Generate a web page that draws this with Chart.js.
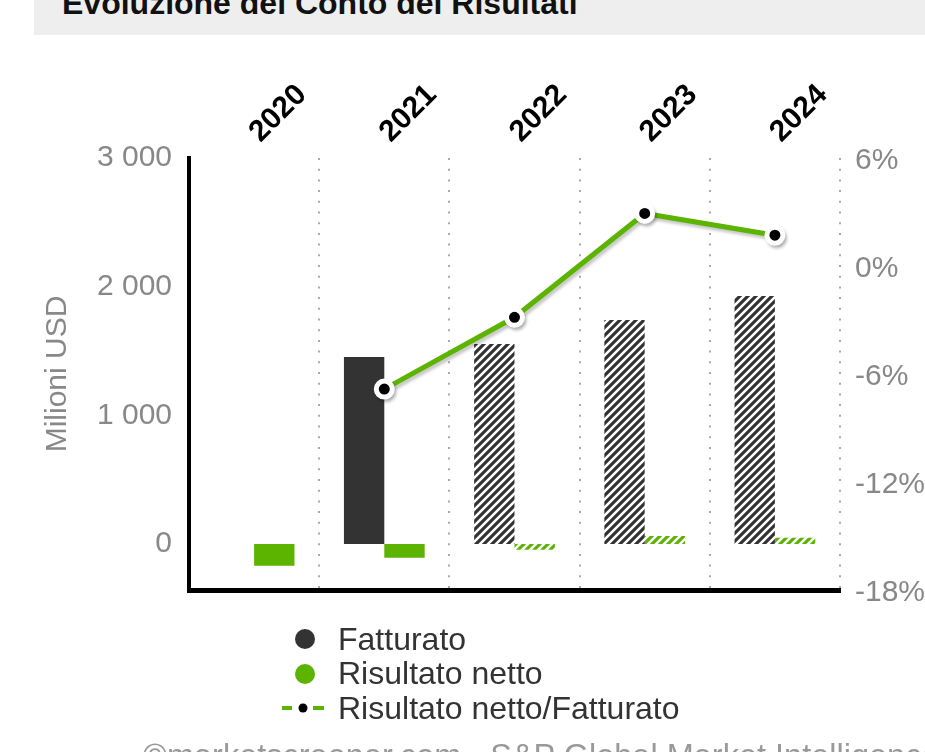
<!DOCTYPE html>
<html>
<head>
<meta charset="utf-8">
<script src="https://cdn.jsdelivr.net/npm/chart.js@4.4.0/dist/chart.umd.min.js"></script>
<style>
  body { margin: 0; width: 925px; height: 752px; overflow: hidden; background: #fff; position: relative;
         font-family: 'Liberation Sans', Arial, sans-serif; }
  #titleBar { position: absolute; left: 34px; top: 0; width: 891px; height: 35px; background: #eeeeee; }
  #titleBar span { position: absolute; left: 28px; top: -13px; font-weight: bold; font-size: 32px;
                   line-height: 32px; color: #111; white-space: nowrap; }
  #wrap { position: absolute; left: 0; top: 0; width: 925px; height: 752px; }
  #legend { position: absolute; left: 282px; top: 622px; }
  .item { height: 34.5px; font-size: 32px; color: #333; display: flex; align-items: center; white-space: nowrap; }
  .item svg { width: 56px; height: 34px; flex: none; }
  #footer { position: absolute; left: 143px; top: 741px; font-size: 32.5px; line-height: 30px; color: #999; white-space: nowrap; }
</style>
</head>
<body>
<div id="titleBar"><span>Evoluzione del Conto dei Risultati</span></div>
<div id="wrap"><canvas id="chart"></canvas></div>
<div id="legend"></div>
<div id="footer">©marketscreener.com - S&amp;P Global Market Intelligence</div>

<script>
const anni = ['2020', '2021', '2022', '2023', '2024'];
const fatturato = [null, 1453, 1554, 1741, 1927];
const risultatoNetto = [-169, -106, -44, 62, 49];
const margineNetto = [null, -6.67, -2.68, 3.09, 1.88];
const stimato = [false, false, true, true, true];
const tickSinistra = [0, 1000, 2000, 3000];
const tickDestra = [-18, -12, -6, 0, 6];

const GRIGIO = '#333333';
const VERDE = '#5cb300';

// righe diagonali bianche su colore pieno, per gli anni stimati
function tratteggio(colore) {
  const c = document.createElement('canvas');
  c.width = 8; c.height = 8;
  const ctx = c.getContext('2d');
  ctx.fillStyle = colore;
  ctx.fillRect(0, 0, 8, 8);
  ctx.strokeStyle = '#fff';
  ctx.lineWidth = 2.5;
  ctx.beginPath();
  ctx.moveTo(-2, 2); ctx.lineTo(2, -2);
  ctx.moveTo(0, 8); ctx.lineTo(8, 0);
  ctx.moveTo(6, 10); ctx.lineTo(10, 6);
  ctx.stroke();
  return ctx.createPattern(c, 'repeat');
}

const patGrigio = tratteggio(GRIGIO);
const patVerde = tratteggio(VERDE);

const ombraLinea = {
  id: 'ombraLinea',
  beforeDatasetDraw(chart, args) {
    if (chart.data.datasets[args.index].type !== 'line') return;
    const ctx = chart.ctx;
    ctx.save();
    ctx.shadowColor = 'rgba(0,0,0,0.22)';
    ctx.shadowBlur = 3;
    ctx.shadowOffsetX = 2;
    ctx.shadowOffsetY = 3;
  },
  afterDatasetDraw(chart, args) {
    if (chart.data.datasets[args.index].type !== 'line') return;
    chart.ctx.restore();
  }
};

Chart.defaults.font.family = "'Liberation Sans', Arial, sans-serif";

const grafico = new Chart(document.getElementById('chart'), {
  type: 'bar',
  data: {
    labels: anni,
    datasets: [
      {
        type: 'line',
        label: 'Risultato netto/Fatturato',
        data: margineNetto,
        yAxisID: 'y1',
        xAxisID: 'x',
        borderColor: VERDE,
        borderWidth: 5,
        pointRadius: 8,
        pointBorderWidth: 5,
        pointBackgroundColor: '#000',
        pointBorderColor: '#fff',
        order: 0
      },
      {
        label: 'Fatturato',
        data: fatturato,
        backgroundColor: stimato.map(s => s ? patGrigio : GRIGIO),
        legendColor: GRIGIO,
        yAxisID: 'y',
        xAxisID: 'x',
        order: 1
      },
      {
        label: 'Risultato netto',
        data: risultatoNetto,
        backgroundColor: stimato.map(s => s ? patVerde : VERDE),
        legendColor: VERDE,
        yAxisID: 'y',
        xAxisID: 'x',
        order: 2
      }
    ]
  },
  plugins: [ombraLinea],
  options: {
    responsive: true,
    maintainAspectRatio: false,
    animation: false,
    categoryPercentage: 0.62,
    barPercentage: 1,
    layout: { padding: 0 },
    plugins: {
      legend: { display: false },
      tooltip: { enabled: false }
    },
    scales: {
      x: {
        position: 'top',
        offset: true,
        grid: { offset: true, color: '#aaa', lineWidth: 2, drawTicks: false },
        border: { display: false, dash: [2, 8.7] },
        ticks: {
          color: '#000',
          font: { size: 30, weight: 'bold' },
          maxRotation: 45,
          minRotation: 45,
          autoSkip: false,
          labelOffset: 26,
          padding: 8
        },
        afterFit: s => { s.height = 158; }
      },
      x2: {
        type: 'category',
        position: 'bottom',
        labels: anni,
        grid: { display: false, drawTicks: false },
        ticks: { display: false },
        border: { display: true, color: '#000', width: 5 },
        afterFit: s => { s.height = 162; }
      },
      y: {
        position: 'left',
        min: -357,
        max: 3000,
        grid: { display: false, drawTicks: false },
        border: { display: true, color: '#000', width: 4 },
        afterBuildTicks: s => { s.ticks = tickSinistra.map(v => ({ value: v })); },
        ticks: {
          color: '#888',
          font: { size: 30 },
          padding: 17,
          callback: v => String(v).replace(/\B(?=(\d{3})+(?!\d))/g, ' ')
        },
        title: {
          display: true,
          text: 'Milioni USD',
          color: '#888',
          font: { size: 30 },
          padding: { top: 40, bottom: 0 }
        },
        afterFit: s => { s.width = 189; }
      },
      y1: {
        position: 'right',
        min: -17.83,
        max: 6.17,
        grid: { display: false, drawTicks: false },
        border: { display: false },
        afterBuildTicks: s => { s.ticks = tickDestra.map(v => ({ value: v })); },
        ticks: {
          color: '#888',
          font: { size: 30 },
          padding: 15,
          callback: v => v + '%'
        },
        afterFit: s => { s.width = 85; }
      }
    }
  }
});

// legenda verticale come nell'originale
function creaLegenda(chart) {
  const ordine = ['Fatturato', 'Risultato netto', 'Risultato netto/Fatturato'];
  const righe = ordine.map(nome => {
    const ds = chart.data.datasets.find(d => d.label === nome);
    let icona;
    if (ds.type === 'line') {
      icona = '<svg viewBox="0 0 56 34"><line x1="0" y1="17" x2="10" y2="17" stroke="' + ds.borderColor + '" stroke-width="4"/>' +
              '<circle cx="21" cy="17" r="4.5" fill="#000"/>' +
              '<line x1="31" y1="17" x2="42" y2="17" stroke="' + ds.borderColor + '" stroke-width="4"/></svg>';
    } else {
      icona = '<svg viewBox="0 0 56 34"><circle cx="23" cy="17" r="10" fill="' + ds.legendColor + '"/></svg>';
    }
    return '<div class="item">' + icona + '<span>' + nome + '</span></div>';
  });
  document.getElementById('legend').innerHTML = righe.join('');
}

creaLegenda(grafico);
</script>
</body>
</html>
